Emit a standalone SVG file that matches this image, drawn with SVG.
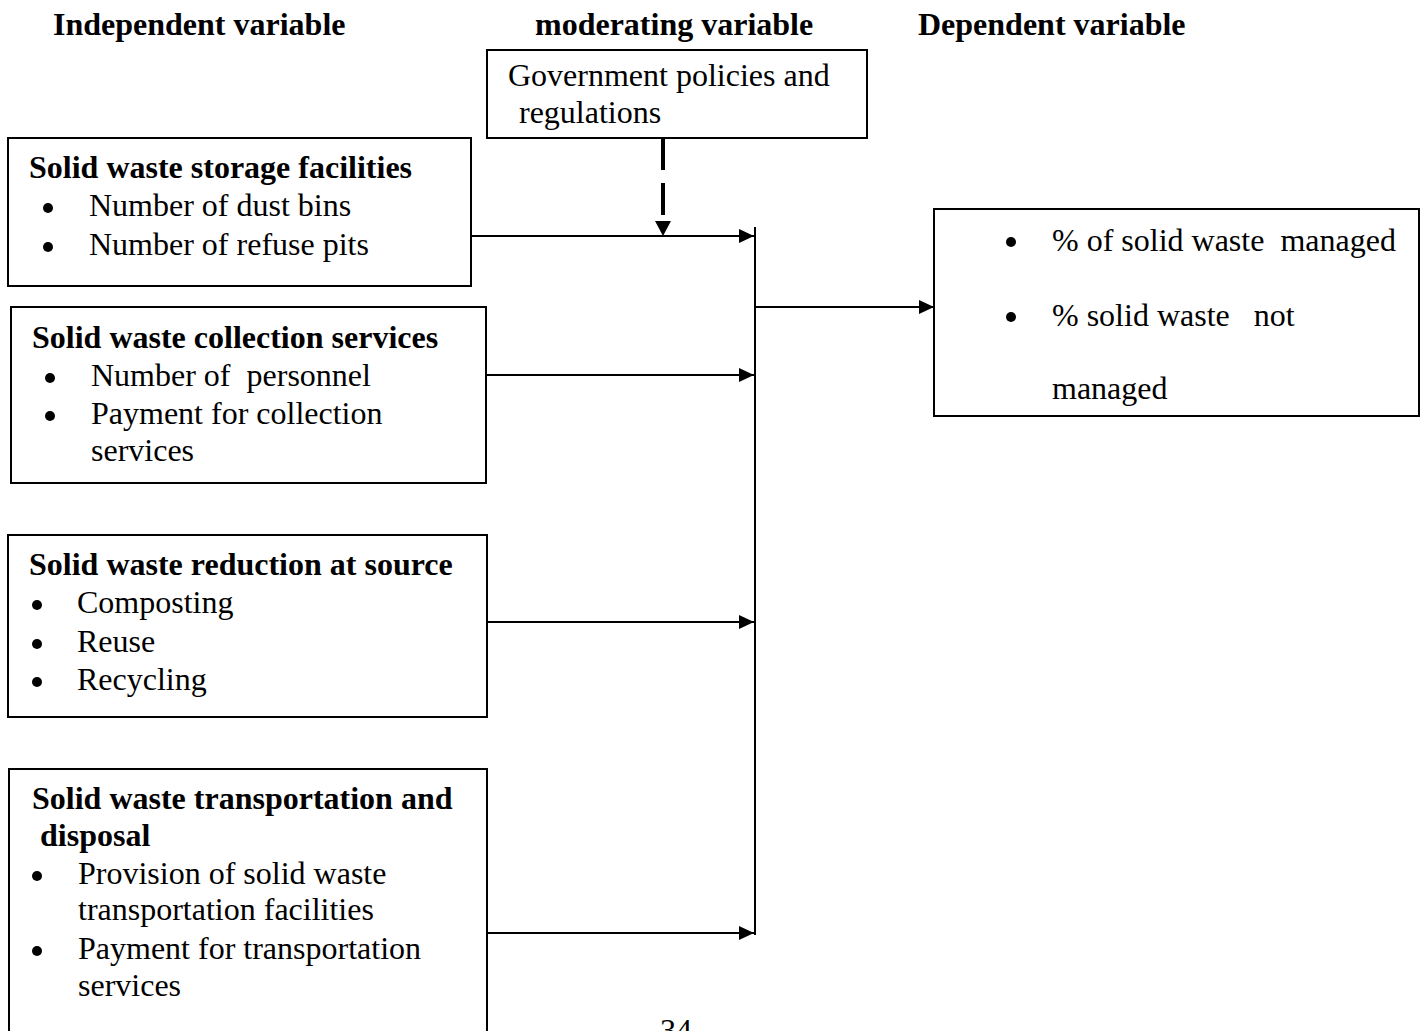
<svg xmlns="http://www.w3.org/2000/svg" width="1423" height="1031" viewBox="0 0 1423 1031">
<defs>
<style>
text{font-family:"Liberation Serif","Times New Roman",serif;font-size:32px;fill:#000;white-space:pre}
.h{font-weight:bold}
.box{fill:#fff;stroke:#000;stroke-width:2}
.conn{stroke:#000;stroke-width:2;fill:none}
.dash{stroke:#000;stroke-width:4;fill:none;stroke-dasharray:32 13}
.bul{fill:#000}
</style>
<marker id="arr" markerUnits="userSpaceOnUse" markerWidth="16" markerHeight="14" refX="15" refY="7" orient="auto" viewBox="0 0 16 14">
<path d="M0,0 L15,7 L0,14 z" fill="#000"/>
</marker>
<marker id="arrD" markerUnits="userSpaceOnUse" markerWidth="16" markerHeight="18" refX="0" refY="8" orient="auto" viewBox="0 0 16 18">
<path d="M0,0 L15,8 L0,16 z" fill="#000"/>
</marker>
</defs>
<rect width="1423" height="1031" fill="#fff"/>

<g id="headers">
<text class="h" x="53" y="35">Independent variable</text>
<text class="h" x="535" y="35">moderating variable</text>
<text class="h" x="918" y="35">Dependent variable</text>
</g>

<g id="connectors">
<line class="dash" x1="663" y1="138" x2="663" y2="221" marker-end="url(#arrD)"/>
<line class="conn" x1="471" y1="236" x2="754" y2="236" marker-end="url(#arr)"/>
<line class="conn" x1="486" y1="375" x2="754" y2="375" marker-end="url(#arr)"/>
<line class="conn" x1="487" y1="622" x2="754" y2="622" marker-end="url(#arr)"/>
<line class="conn" x1="487" y1="933" x2="754" y2="933" marker-end="url(#arr)"/>
<line class="conn" x1="755" y1="227" x2="755" y2="935" stroke-width="2.5"/>
<line class="conn" x1="755" y1="307" x2="934" y2="307" marker-end="url(#arr)"/>
</g>

<g id="moderator">
<rect class="box" x="487" y="50" width="380" height="88"/>
<text x="508" y="86">Government policies and</text>
<text x="519" y="123">regulations</text>
</g>

<g id="storage">
<rect class="box" x="8" y="138" width="463" height="148"/>
<text class="h" x="29" y="178">Solid waste storage facilities</text>
<circle class="bul" cx="48" cy="208" r="5"/>
<text x="89" y="216">Number of dust bins</text>
<circle class="bul" cx="48" cy="247" r="5"/>
<text x="89" y="255">Number of refuse pits</text>
</g>

<g id="collection">
<rect class="box" x="11" y="307" width="475" height="176"/>
<text class="h" x="32" y="348">Solid waste collection services</text>
<circle class="bul" cx="50" cy="378" r="5"/>
<text x="91" y="386">Number of  personnel</text>
<circle class="bul" cx="50" cy="416" r="5"/>
<text x="91" y="424">Payment for collection</text>
<text x="91" y="461">services</text>
</g>

<g id="reduction">
<rect class="box" x="8" y="535" width="479" height="182"/>
<text class="h" x="29" y="575">Solid waste reduction at source</text>
<circle class="bul" cx="37" cy="605" r="5"/>
<text x="77" y="613">Composting</text>
<circle class="bul" cx="37" cy="644" r="5"/>
<text x="77" y="652">Reuse</text>
<circle class="bul" cx="37" cy="682" r="5"/>
<text x="77" y="690">Recycling</text>
</g>

<g id="transport">
<rect class="box" x="9" y="769" width="478" height="280"/>
<text class="h" x="32" y="809">Solid waste transportation and</text>
<text class="h" x="32" y="846"> disposal</text>
<circle class="bul" cx="37" cy="876" r="5"/>
<text x="78" y="884">Provision of solid waste</text>
<text x="78" y="920">transportation facilities</text>
<circle class="bul" cx="37" cy="951" r="5"/>
<text x="78" y="959">Payment for transportation</text>
<text x="78" y="996">services</text>
</g>

<g id="dependent">
<rect class="box" x="934" y="209" width="485" height="207"/>
<circle class="bul" cx="1011" cy="242" r="5"/>
<text x="1052" y="251">% of solid waste  managed</text>
<circle class="bul" cx="1011" cy="317" r="5"/>
<text x="1052" y="326">% solid waste   not</text>
<text x="1052" y="399">managed</text>
</g>

<g id="page">
<text x="660" y="1041">34</text>
</g>
</svg>
